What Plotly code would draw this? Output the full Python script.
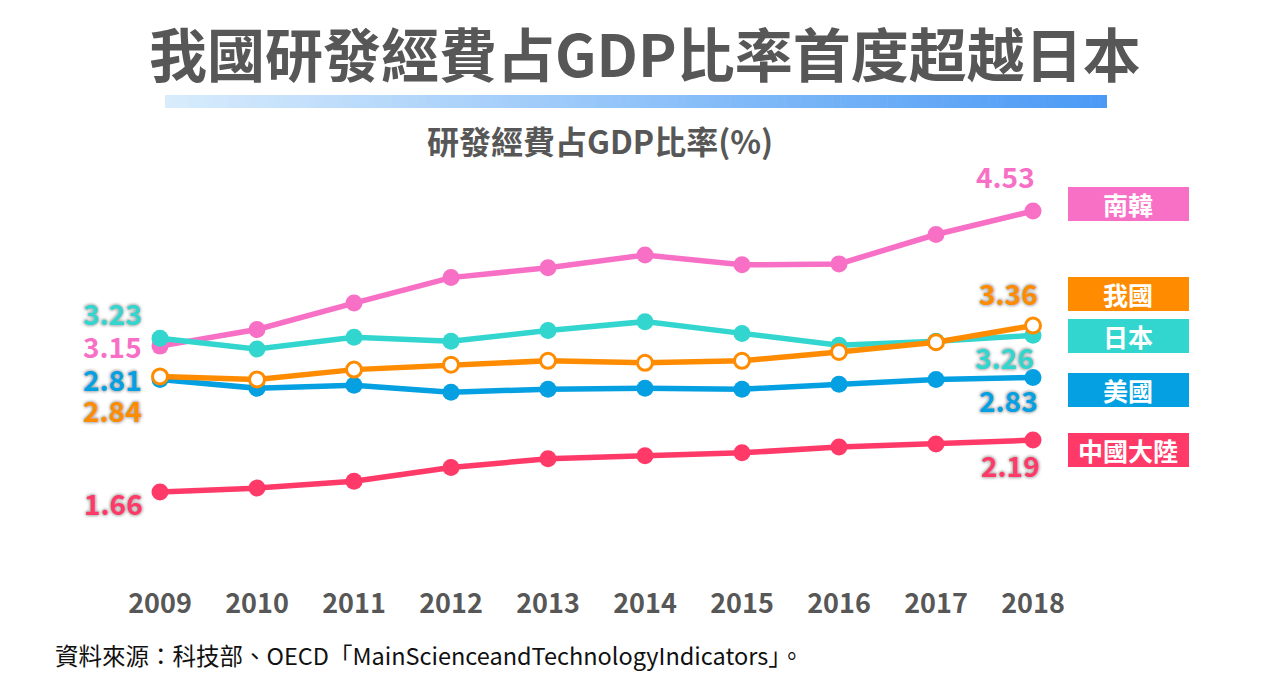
import plotly.graph_objects as go

years = [2009, 2010, 2011, 2012, 2013, 2014, 2015, 2016, 2017, 2018]
korea = [3.15, 3.32, 3.59, 3.85, 3.95, 4.08, 3.98, 3.99, 4.29, 4.53]
japan = [3.23, 3.12, 3.24, 3.20, 3.31, 3.40, 3.28, 3.16, 3.20, 3.26]
taiwan = [2.84, 2.81, 2.91, 2.96, 3.00, 2.98, 3.00, 3.09, 3.19, 3.36]
usa = [2.81, 2.72, 2.75, 2.68, 2.71, 2.72, 2.71, 2.76, 2.81, 2.83]
china = [1.66, 1.70, 1.77, 1.91, 2.00, 2.03, 2.06, 2.12, 2.15, 2.19]

names = ["南韓", "我國", "日本", "美國", "中國大陸"]
title_text = "我國研發經費占GDP比率首度超越日本"
subtitle_text = "研發經費占GDP比率(%)"
source_text = "資料來源：科技部、OECD「MainScienceandTechnologyIndicators」。"

C_KR = "#F870C6"
C_JP = "#33D6CF"
C_TW = "#FF8C00"
C_US = "#05A0E2"
C_CN = "#FF3A69"

FONT = "Noto Sans CJK TC"
GRAY = "#575757"

# plot area in pixels
L, R, T, B = 60, 149, 160, 100
W, H = 1279, 681
pw, ph = W - L - R, H - T - B


def px_x(p):
    return (p - L) / pw


def px_y(p):
    return (H - B - p) / ph


fig = go.Figure()

series = [
    (korea, C_KR, False),
    (japan, C_JP, False),
    (usa, C_US, False),
    (china, C_CN, False),
    (taiwan, C_TW, True),
]
for vals, col, hollow in series:
    fig.add_trace(go.Scatter(
        x=years, y=vals, mode="lines+markers",
        line=dict(color=col, width=5.5),
        marker=dict(size=17 if not hollow else 15,
                    color="white" if hollow else col,
                    line=dict(color=col, width=3 if hollow else 0)),
        showlegend=False, hoverinfo="skip",
    ))

shadow = "0px 0px 3px #b0b0b0, 0px 0px 3px #b0b0b0, 0px 0px 4px #bbbbbb"


def label(x, v, col, dx, dy, halo=True):
    fig.add_annotation(
        x=x, y=v, text=f"{v:.2f}", showarrow=False, xshift=dx, yshift=dy,
        xanchor="center", yanchor="middle",
        font=dict(family=FONT, size=28, color=col, weight="bold",
                  shadow=shadow if halo else "none"),
    )


label(years[0], japan[0], C_JP, -48, 25)
label(years[0], korea[0], C_KR, -48, 0, halo=False)
label(years[0], usa[0], C_US, -48, 0)
label(years[0], taiwan[0], C_TW, -48, -34)
label(years[0], china[0], C_CN, -47, -11)
label(years[-1], korea[-1], C_KR, -28, 35, halo=False)
label(years[-1], taiwan[-1], C_TW, -25, 33)
label(years[-1], japan[-1], C_JP, -29, -22)
label(years[-1], usa[-1], C_US, -25, -23)
label(years[-1], china[-1], C_CN, -23, -25)

# legend boxes (pixel centers)
box_y = [204, 294, 336, 390, 450]
box_c = [C_KR, C_TW, C_JP, C_US, C_CN]
for nm, yc, col in zip(names, box_y, box_c):
    fig.add_shape(type="rect", xref="paper", yref="paper",
                  x0=px_x(1068), x1=px_x(1189), y0=px_y(yc + 17), y1=px_y(yc - 17),
                  fillcolor=col, line=dict(width=0), layer="below")
    fig.add_annotation(xref="paper", yref="paper", x=px_x(1128), y=px_y(yc),
                       xanchor="center", yanchor="middle",
                       text=nm, showarrow=False,
                       font=dict(family=FONT, size=25, color="white", weight="bold"))

# gradient bar
n = 120
x0p, x1p = 165, 1107
c0 = (0xD8, 0xEC, 0xFC)
c1 = (0x4A, 0x9A, 0xF5)
for i in range(n):
    t = i / (n - 1)
    c = tuple(round(a + (b - a) * t) for a, b in zip(c0, c1))
    xa = x0p + (x1p - x0p) * i / n
    xb = x0p + (x1p - x0p) * (i + 1) / n + 0.6
    fig.add_shape(type="rect", xref="paper", yref="paper",
                  x0=px_x(xa), x1=px_x(min(xb, x1p)), y0=px_y(108), y1=px_y(95),
                  fillcolor="rgb(%d,%d,%d)" % c, line=dict(width=0))

fig.add_annotation(xref="paper", yref="paper", x=px_x(645), y=px_y(52),
                   xanchor="center", yanchor="middle",
                   text=title_text, showarrow=False,
                   font=dict(family=FONT, size=58, color=GRAY, weight="bold"))
fig.add_annotation(xref="paper", yref="paper", x=px_x(600), y=px_y(140),
                   xanchor="center", yanchor="middle",
                   text=subtitle_text, showarrow=False,
                   font=dict(family=FONT, size=32, color=GRAY, weight="bold"))
fig.add_annotation(xref="paper", yref="paper", x=px_x(53), y=px_y(655),
                   xanchor="left", yanchor="middle", text=source_text, showarrow=False,
                   font=dict(family=FONT, size=23.5, color="#111111"))

fig.update_layout(
    width=W, height=H, margin=dict(l=L, r=R, t=T, b=B),
    paper_bgcolor="white", plot_bgcolor="white",
    xaxis=dict(range=[2007.969, 2019.0], tickvals=years, ticktext=[str(y) for y in years],
               showgrid=False, zeroline=False, showline=False,
               tickfont=dict(family=FONT, size=27, color=GRAY, weight="bold"),
               ticklabelstandoff=4),
    yaxis=dict(range=[0.751, 5.051], visible=False, showgrid=False),
)

fig.write_html("out.html")
